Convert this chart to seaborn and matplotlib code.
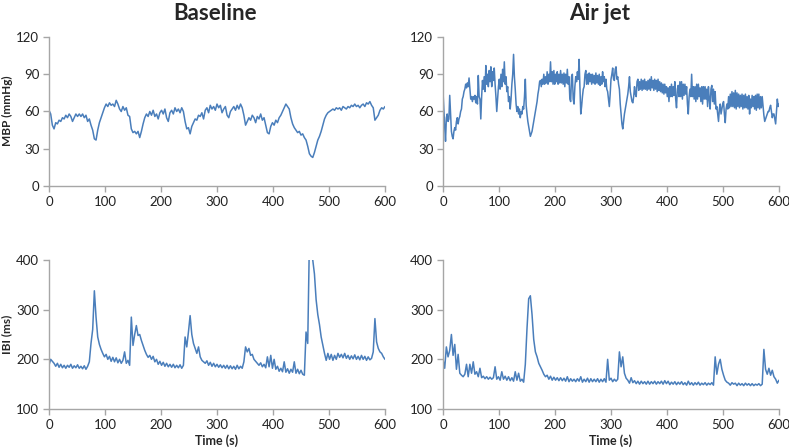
import numpy as np
import pandas as pd
import matplotlib
matplotlib.use("Agg")
import matplotlib.pyplot as plt
import seaborn as sns

# time grids (s)
time_s = list(range(0, 601, 3))
time_fine_s = [i * 1.5 for i in range(401)]

baseline_mbp = [
    61, 58, 49, 46, 51, 50, 53, 52, 55, 54,
    57, 55, 58, 56, 52, 55, 58, 56, 58, 56,
    58, 55, 57, 52, 54, 49, 45, 38, 37, 45,
    51, 55, 59, 63, 66, 64, 67, 65, 66, 64,
    69, 66, 62, 60, 64, 61, 63, 57, 56, 46,
    43, 44, 42, 44, 39, 44, 50, 55, 58, 56,
    60, 57, 61, 56, 58, 54, 59, 61, 58, 62,
    55, 52, 59, 61, 58, 63, 60, 62, 59, 63,
    60, 52, 46, 47, 42, 48, 51, 54, 53, 57,
    56, 59, 54, 61, 63, 59, 65, 62, 64, 61,
    66, 63, 65, 59, 62, 64, 57, 55, 60, 62,
    64, 61, 65, 62, 66, 63, 57, 49, 52, 55,
    53, 57, 55, 51, 56, 54, 58, 53, 55, 49,
    43, 42, 48, 51, 49, 53, 51, 55, 57, 60,
    63, 66, 64, 62, 55, 50, 47, 45, 43, 44,
    41, 42, 39, 37, 32, 26, 24, 23, 27, 32,
    37, 40, 44, 49, 54, 57, 59, 60, 61, 62,
    61, 63, 62, 63, 61, 64, 63, 62, 64, 63,
    65, 64, 66, 64, 65, 63, 65, 66, 64, 67,
    66, 68, 65, 63, 53, 55, 57, 61, 63, 62,
    64,
]

# Air jet MBP, read on a 1.5 s grid
airjet_mbp = [
    76, 62, 48, 36, 55, 58, 52, 54, 73, 58, 44, 40, 38, 44, 47, 45, 52, 55, 50, 54,
    56, 60, 62, 70, 72, 76, 78, 82, 79, 83, 80, 87, 78, 70, 72, 68, 72, 70, 73, 67,
    72, 66, 89, 72, 70, 54, 72, 85, 78, 88, 76, 97, 82, 90, 80, 93, 84, 96, 80, 92,
    85, 95, 82, 72, 60, 70, 80, 86, 78, 90, 80, 94, 84, 100, 82, 88, 76, 80, 68, 72,
    62, 70, 82, 90, 106, 88, 78, 66, 60, 64, 58, 62, 55, 60, 58, 64, 62, 72, 86, 65,
    58, 52, 48, 44, 40, 42, 44, 48, 52, 56, 60, 64, 68, 74, 78, 84, 85, 80, 86, 82,
    90, 82, 88, 83, 92, 82, 90, 84, 100, 84, 92, 82, 93, 82, 90, 84, 92, 82, 90, 83,
    93, 83, 90, 82, 91, 80, 90, 83, 94, 82, 88, 70, 68, 88, 90, 70, 66, 80, 88, 84,
    92, 86, 102, 80, 58, 64, 72, 78, 80, 90, 93, 82, 90, 82, 91, 84, 90, 82, 90, 83,
    89, 82, 91, 83, 89, 82, 90, 81, 88, 82, 92, 84, 88, 80, 86, 78, 76, 70, 64, 74,
    86, 90, 95, 86, 85, 94, 96, 86, 88, 82, 78, 66, 58, 50, 46, 52, 58, 62, 66, 70,
    74, 80, 88, 76, 72, 68, 67, 72, 80, 74, 72, 84, 86, 77, 84, 78, 86, 77, 85, 78,
    86, 78, 84, 77, 85, 78, 86, 77, 88, 79, 85, 77, 86, 78, 85, 76, 86, 77, 84, 76,
    83, 75, 82, 74, 82, 75, 80, 72, 79, 68, 80, 72, 82, 72, 80, 73, 84, 70, 63, 78,
    81, 72, 84, 72, 84, 70, 82, 73, 82, 74, 80, 66, 58, 72, 78, 72, 90, 72, 80, 70,
    80, 68, 82, 70, 82, 72, 79, 68, 80, 66, 80, 70, 80, 70, 78, 64, 80, 70, 62, 78,
    81, 68, 78, 66, 76, 62, 64, 58, 52, 62, 66, 58, 62, 66, 68, 58, 51, 62, 66, 62,
    72, 63, 74, 64, 76, 64, 75, 63, 77, 62, 75, 64, 74, 63, 73, 64, 74, 62, 73, 63,
    74, 63, 72, 62, 73, 58, 70, 63, 73, 64, 72, 62, 73, 61, 74, 63, 74, 62, 72, 63,
    72, 64, 57, 52, 54, 56, 58, 60, 60, 63, 65, 60, 55, 58, 58, 54, 50, 60, 70, 64,
    66,
]

baseline_ibi = [
    188, 200, 196, 192, 186, 192, 184, 190, 183, 188,
    182, 188, 184, 190, 182, 187, 183, 189, 182, 186,
    181, 187, 180, 186, 195, 232, 260, 338, 285, 245,
    230, 220, 212, 205, 210, 200, 206, 196, 204, 195,
    203, 193, 200, 192, 198, 215, 192, 198, 188, 285,
    228, 250, 268, 248, 250, 238, 228, 218, 210, 204,
    208, 200, 206, 195, 200, 190, 196, 188, 194, 186,
    192, 185, 190, 184, 190, 183, 188, 183, 189, 182,
    188, 245, 225, 255, 288, 250, 232, 222, 212, 225,
    205, 198, 195, 192, 197, 188, 194, 186, 192, 185,
    190, 184, 189, 183, 188, 182, 188, 181, 187, 181,
    186, 180, 188, 181, 186, 182, 195, 225, 215, 222,
    208, 210, 200, 196, 192, 188, 193, 185, 190, 183,
    205, 185, 208, 182, 200, 180, 186, 176, 182, 175,
    195, 174, 181, 172, 180, 174, 195, 172, 180, 171,
    178, 170, 168, 255, 232, 440, 430, 400, 372, 320,
    290, 270, 245, 228, 212, 198, 212, 200, 210, 198,
    208, 200, 212, 204, 210, 203, 212, 202, 208, 200,
    207, 201, 209, 200, 206, 199, 208, 200, 206, 198,
    205, 199, 202, 215, 282, 235, 222, 215, 212, 205,
    200,
]

airjet_ibi = [
    200, 182, 225, 205, 218, 250, 208, 230, 180, 210,
    172, 168, 165, 170, 190, 165, 190, 172, 195, 170,
    175, 165, 182, 163, 166, 161, 165, 160, 164, 160,
    163, 185, 160, 165, 158, 175, 160, 166, 158, 165,
    157, 163, 156, 175, 158, 172, 156, 160, 154, 190,
    262, 322, 328, 290, 240, 215, 205, 192, 185, 178,
    170, 165, 168, 160, 166, 158, 164, 158, 163, 157,
    163, 157, 162, 156, 165, 155, 161, 156, 160, 155,
    161, 156, 165, 154, 160, 155, 162, 154, 161, 155,
    160, 155, 161, 154, 160, 155, 161, 154, 200, 158,
    162, 155, 160, 156, 160, 215, 185, 205, 172, 162,
    158, 152, 163, 153, 157, 151, 156, 150, 156, 151,
    155, 150, 156, 150, 155, 151, 156, 150, 155, 151,
    156, 150, 157, 151, 156, 149, 154, 150, 155, 149,
    154, 150, 155, 149, 153, 148, 156, 149, 153, 148,
    153, 149, 154, 148, 152, 149, 153, 148, 152, 149,
    153, 148, 205, 170, 190, 200, 180, 168, 158, 154,
    152, 148, 153, 150, 152, 147, 152, 148, 151, 147,
    152, 148, 151, 147, 151, 147, 150, 148, 151, 147,
    150, 220, 180, 170, 182, 168, 178, 165, 160, 152,
    158,
]

condition_titles = ["Baseline", "Air jet"]
mbp_ticks = [0, 30, 60, 90, 120]
ibi_ticks = [100, 200, 300, 400]
time_ticks = [0, 100, 200, 300, 400, 500, 600]

sns.set_style("white")
plt.rcParams["font.family"] = ["Lato", "DejaVu Sans"]

line_color = "#4A7EBB"
spine_color = "#A6A6A6"
W, H = 789, 448
fig = plt.figure(figsize=(W / 100, H / 100), dpi=100)

def ax_at(x0, y0, x1, y1):
    return fig.add_axes([x0 / W, 1 - y1 / H, (x1 - x0) / W, (y1 - y0) / H])

panels = [
    (ax_at(49, 37, 385, 186), time_s, baseline_mbp, (0, 120), mbp_ticks),
    (ax_at(443, 37, 779, 186), time_fine_s, airjet_mbp, (0, 120), mbp_ticks),
    (ax_at(49, 260, 385, 409), time_s, baseline_ibi, (100, 400), ibi_ticks),
    (ax_at(443, 260, 779, 409), time_s, airjet_ibi, (100, 400), ibi_ticks),
]

for ax, tvals, vals, ylim, yticks in panels:
    df = pd.DataFrame({"t": tvals, "v": vals})
    sns.lineplot(data=df, x="t", y="v", ax=ax, color=line_color, linewidth=1.1)
    ax.set_xlim(0, 600)
    ax.set_ylim(*ylim)
    ax.set_xticks(time_ticks)
    ax.set_yticks(yticks)
    ax.set_xlabel("")
    ax.set_ylabel("")
    for s in ["top", "right"]:
        ax.spines[s].set_visible(False)
    for s in ["left", "bottom"]:
        ax.spines[s].set_color(spine_color)
        ax.spines[s].set_linewidth(1.0)
    ax.tick_params(axis="both", which="both", direction="out", length=4,
                   width=1.0, color=spine_color, labelsize=9.5,
                   labelcolor="#222222", pad=3, left=True, bottom=True)

fig.text(215 / W, 1 - 13 / H, condition_titles[0], ha="center", va="center",
         fontsize=16, fontweight="bold")
fig.text(600 / W, 1 - 13 / H, condition_titles[1], ha="center", va="center",
         fontsize=16, fontweight="bold")
fig.text(7 / W, 1 - 111 / H, "MBP (mmHg)", rotation=90, ha="center",
         va="center", fontsize=8.5, fontweight="bold")
fig.text(7 / W, 1 - 334 / H, "IBI (ms)", rotation=90, ha="center",
         va="center", fontsize=8.5, fontweight="bold")
fig.text(217 / W, 1 - 441 / H, "Time (s)", ha="center", va="center",
         fontsize=9, fontweight="bold")
fig.text(611 / W, 1 - 441 / H, "Time (s)", ha="center", va="center",
         fontsize=9, fontweight="bold")

fig.savefig("out.png", dpi=100)
